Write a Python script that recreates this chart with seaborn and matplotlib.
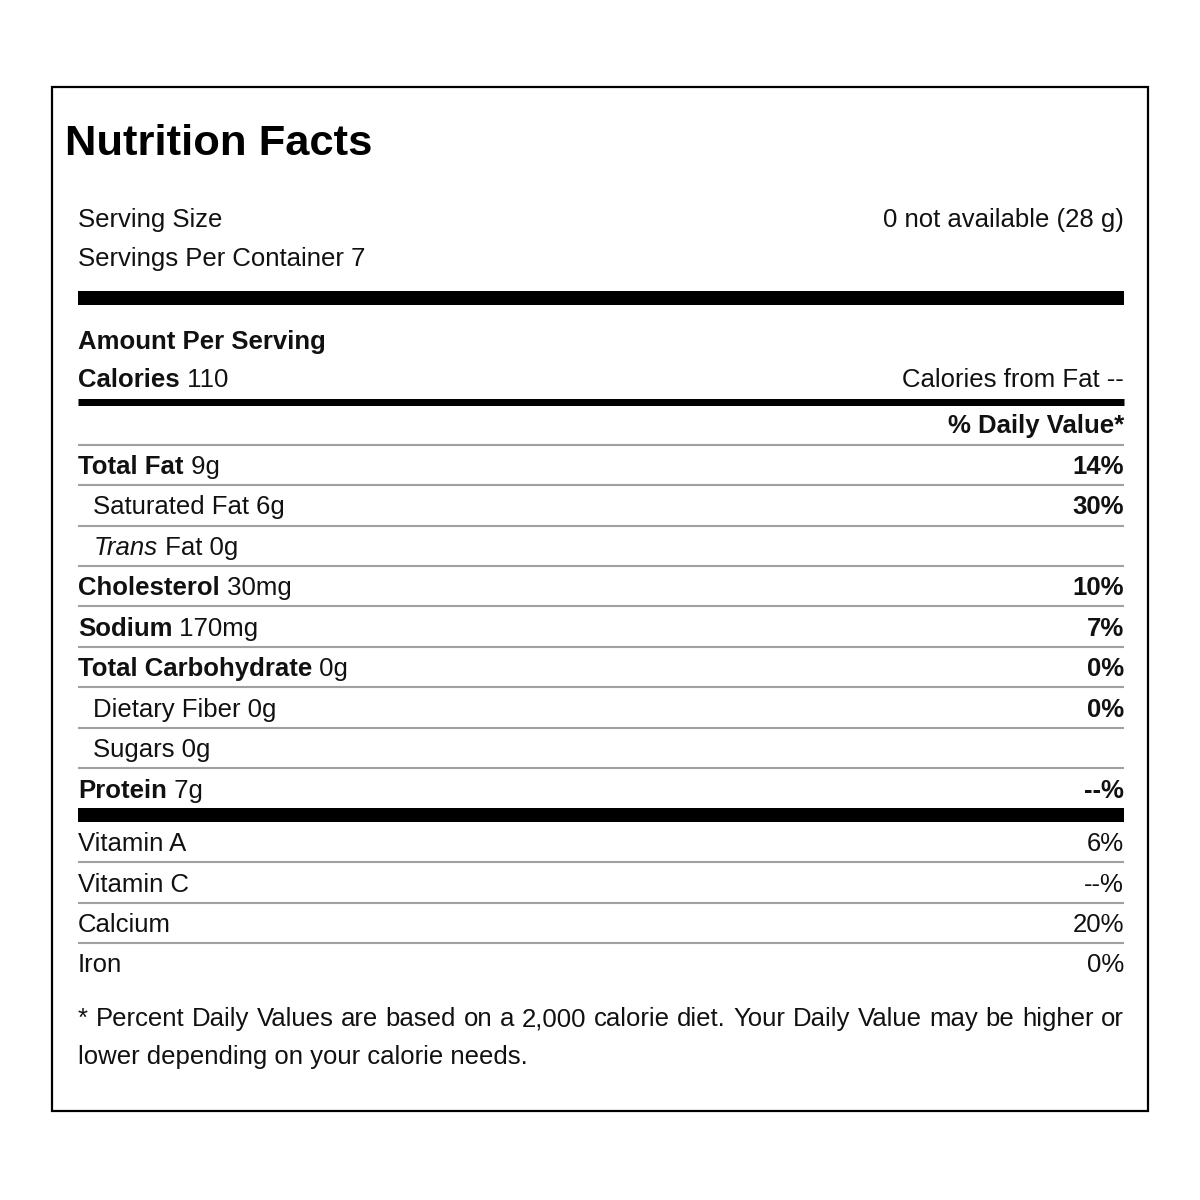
import matplotlib
matplotlib.use("Agg")
import matplotlib.pyplot as plt
import seaborn as sns
from matplotlib.patches import Rectangle

# ---- data ----
title = "Nutrition Facts"
serving_size = "0 not available (28 g)"
servings_per_container = "7"
calories = "110"
calories_from_fat = "--"
nutrients = ["Total Fat", "Saturated Fat", "Trans Fat", "Cholesterol", "Sodium",
             "Total Carbohydrate", "Dietary Fiber", "Sugars", "Protein"]
amounts = ["9g", "6g", "0g", "30mg", "170mg", "0g", "0g", "0g", "7g"]
daily_values = ["14%", "30%", "", "10%", "7%", "0%", "0%", "", "--%"]
sub_item = [False, True, True, False, False, False, True, True, False]
vitamins = ["Vitamin A", "Vitamin C", "Calcium", "Iron"]
vitamin_values = ["6%", "--%", "20%", "0%"]
footnote = ["* Percent Daily Values are based on a 2,000 calorie diet. Your Daily Value may be higher or",
            "lower depending on your calorie needs."]

sns.set_theme(style="white")
plt.rcParams['font.family'] = ['Liberation Sans', 'DejaVu Sans']

fig = plt.figure(figsize=(12, 12), dpi=100)
ax = fig.add_axes([0, 0, 1, 1])
ax.set_xlim(0, 1200)
ax.set_ylim(1200, 0)
ax.axis("off")
fig.canvas.draw()
renderer = fig.canvas.get_renderer()

FS = 18.5
LEFT, RIGHT, INDENT = 78, 1124, 93
TEXT_C = "#111111"


def parts_text(x, y, parts, size=FS):
    for txt, weight, style in parts:
        t = ax.text(x, y, txt, fontsize=size, fontweight=weight, fontstyle=style,
                    ha="left", va="baseline", color=TEXT_C)
        bb = t.get_window_extent(renderer)
        x += bb.width


def right_text(y, txt, weight="normal"):
    ax.text(RIGHT, y, txt, fontsize=FS, fontweight=weight, ha="right",
            va="baseline", color=TEXT_C)


def justified_text(y, line):
    words = line.split(" ")
    arts, widths = [], []
    for w in words:
        t = ax.text(0, y, w, fontsize=FS, ha="left", va="baseline", color=TEXT_C)
        arts.append(t)
        widths.append(t.get_window_extent(renderer).width)
    gap = (RIGHT - LEFT - sum(widths)) / (len(words) - 1)
    x = LEFT
    for t, w in zip(arts, widths):
        t.set_x(x)
        x += w + gap


# outer box
ax.add_patch(Rectangle((52, 87), 1096, 1024, fill=False, edgecolor="black", lw=1.6))

# title
ax.text(65, 155, title, fontsize=31.3, fontweight="bold", ha="left", va="baseline",
        color="black")

parts_text(LEFT, 227, [("Serving Size", "normal", "normal")])
right_text(227, serving_size)
parts_text(LEFT, 266, [("Servings Per Container " + servings_per_container, "normal", "normal")])

ax.hlines(298, LEFT, RIGHT, color="black", lw=14 * 0.72)

parts_text(LEFT, 349, [("Amount Per Serving", "bold", "normal")])
parts_text(LEFT, 387, [("Calories", "bold", "normal"), (" " + calories, "normal", "normal")])
right_text(387, "Calories from Fat " + calories_from_fat)

ax.hlines(401.5, LEFT, RIGHT, color="black", lw=7 * 0.72)
right_text(433, "% Daily Value*", weight="bold")

row_base = [474, 514, 555, 595, 636, 676, 717, 757, 798]
row_lines = [445, 485, 526, 566, 606, 647, 687, 728, 768]
for yl in row_lines:
    ax.hlines(yl, LEFT, RIGHT, color="#a0a0a0", lw=1.5)

for name, amt, dv, sub, yb in zip(nutrients, amounts, daily_values, sub_item, row_base):
    if name == "Trans Fat":
        parts_text(INDENT + 1, yb, [("Trans", "normal", "italic"),
                                    (" Fat " + amt, "normal", "normal")])
    elif sub:
        parts_text(INDENT, yb, [(name + " " + amt, "normal", "normal")])
    else:
        parts_text(LEFT, yb, [(name, "bold", "normal"), (" " + amt, "normal", "normal")])
    if dv:
        right_text(yb, dv, weight="bold")

ax.hlines(815, LEFT, RIGHT, color="black", lw=14 * 0.72)

vit_base = [851, 892, 932, 972]
for yl in [862, 903, 943]:
    ax.hlines(yl, LEFT, RIGHT, color="#a0a0a0", lw=1.5)
for name, val, yb in zip(vitamins, vitamin_values, vit_base):
    parts_text(LEFT, yb, [(name, "normal", "normal")])
    right_text(yb, val)

justified_text(1026, footnote[0])
parts_text(LEFT, 1064, [(footnote[1], "normal", "normal")])

fig.savefig("out.png", dpi=100, facecolor="white")
